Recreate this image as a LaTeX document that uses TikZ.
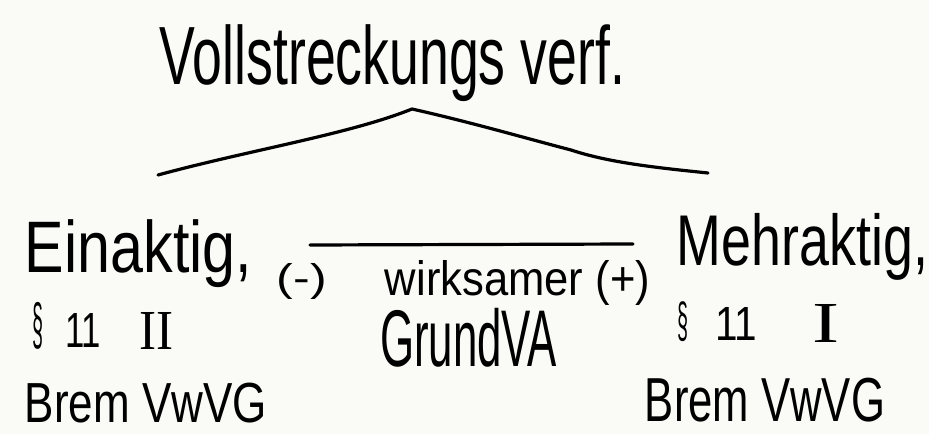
\documentclass[tikz,border=0pt]{standalone}
\usepackage{fontspec}
\setmainfont{Liberation Sans}
\newfontfamily\romfont{Liberation Serif}
\usepackage{graphicx}
\definecolor{paper}{HTML}{FAFAF6}
\newcommand\hwbox[3]{\resizebox*{#1}{#2}{#3}}
\newsavebox\pcbox
\newcommand\pc[3]{\sbox\pcbox{\resizebox*{#1}{#2}{#3}}\raisebox{\dp\pcbox}{\usebox\pcbox}}
\begin{document}
\begin{tikzpicture}[x=1pt,y=1pt,
  ink/.style={line width=3.2pt,line cap=round,line join=round,black},
  hw/.style={inner sep=0pt,anchor=center},
  hwb/.style={inner sep=0pt,anchor=base west}]
\fill[paper] (0,0) rectangle (929,434);
\useasboundingbox (0,0) rectangle (929,434);
% texts
\node[hw] (title) at (392.5,370.5) {\hwbox{465pt}{77pt}{Vollstreckungs verf.}};
\node[hw] (ein) at (138.5,180) {\hwbox{227pt}{68pt}{Einaktig,}};
\node[hw] (minus) at (302,152.5) {\hwbox{50pt}{36pt}{(-)}};
\node[hw] (wirk) at (517.5,151.5) {\hwbox{265pt}{45pt}{wirksamer (+)}};
\node[hw] (grund) at (468.5,96.5) {\hwbox{177pt}{59pt}{GrundVA}};
\node[hw] (mehr) at (802.5,187.5) {\hwbox{251pt}{67pt}{Mehraktig,}};
\node[hwb] (parII) at (32,85) {\pc{11pt}{47pt}{§}\hspace{22pt}\raisebox{1pt}{\pc{36pt}{34pt}{11}}\hspace{38pt}\pc{34pt}{37pt}{\romfont II}};
\node[hwb] (parI) at (677,92) {\pc{11pt}{40pt}{§}\hspace{27pt}\raisebox{1pt}{\pc{42pt}{33pt}{11}}\hspace{55pt}\pc{27pt}{38pt}{\romfont I}};
\node[hw] (bremL) at (146,31) {\hwbox{242pt}{40pt}{Brem VwVG}};
\node[hw] (bremR) at (765,34) {\hwbox{240pt}{44pt}{Brem VwVG}};
% tent
\coordinate (tl) at (158,259);
\coordinate (peak) at (412,325);
\coordinate (mid) at (571,284);
\coordinate (tr) at (708,261);
\draw[ink] (tl) .. controls (250,284) and (350,300) .. (peak)
  .. controls (470,312) and (525,296) .. (mid)
  .. controls (610,271) and (660,266) .. (tr);
% bar
\coordinate (bl) at (310,189);
\coordinate (br) at (633,190);
\draw[ink] (bl) -- (br);
\end{tikzpicture}
\end{document}
